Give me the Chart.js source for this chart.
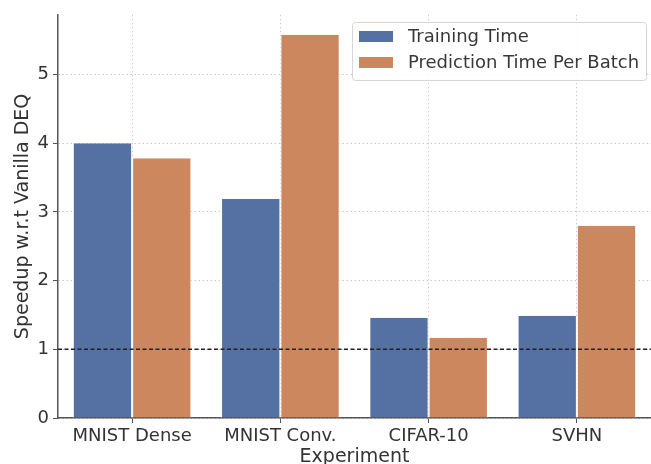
<!DOCTYPE html>
<html>
<head>
<meta charset="utf-8">
<script src="https://cdn.jsdelivr.net/npm/chart.js@4"></script>
<style>
  html, body { margin: 0; padding: 0; background: #fff; }
  #wrap { width: 651px; height: 464px; }
</style>
</head>
<body>
<div id="wrap"><canvas id="speedChart" width="651" height="464"></canvas></div>
<script>
const experiments = ['MNIST Dense', 'MNIST Conv.', 'CIFAR-10', 'SVHN'];
const trainingTime = [4.0, 3.19, 1.46, 1.49];
const predictionTime = [3.78, 5.58, 1.17, 2.80];
const yTicks = [0, 1, 2, 3, 4, 5];
const baseline = 1;

const FONT = "'DejaVu Sans', sans-serif";

// dashed baseline at 1 and the boxed legend in the upper right
const extras = {
    id: 'extras',
    afterDatasetsDraw(chart) {
        const ctx = chart.ctx;
        const area = chart.chartArea;
        const y = chart.scales.y.getPixelForValue(baseline);
        ctx.save();
        ctx.strokeStyle = '#222';
        ctx.lineWidth = 1.5;
        ctx.setLineDash([4, 2.5]);
        ctx.beginPath();
        ctx.moveTo(area.left, y);
        ctx.lineTo(area.right, y);
        ctx.stroke();
        ctx.restore();
    },
    afterDraw(chart) {
        const ctx = chart.ctx;
        const bx = 352, by = 22, bw = 294, bh = 58;
        ctx.save();
        ctx.fillStyle = 'rgba(255,255,255,0.85)';
        ctx.strokeStyle = '#d6d6d6';
        ctx.lineWidth = 1;
        ctx.beginPath();
        ctx.roundRect(bx + 0.5, by + 0.5, bw, bh, 3);
        ctx.fill();
        ctx.stroke();
        ctx.font = '18px ' + FONT;
        ctx.textBaseline = 'middle';
        chart.data.datasets.forEach((ds, i) => {
            const rowY = by + 15 + i * 26;
            ctx.fillStyle = ds.backgroundColor;
            ctx.fillRect(bx + 7, rowY - 6, 34, 11);
            ctx.fillStyle = '#383838';
            ctx.fillText(ds.label, bx + 56, rowY);
        });
        ctx.restore();
    }
};

const ctx = document.getElementById('speedChart').getContext('2d');
new Chart(ctx, {
    type: 'bar',
    data: {
        labels: experiments,
        datasets: [{
            label: 'Training Time',
            data: trainingTime,
            backgroundColor: '#5571A4',
            borderColor: '#ffffff',
            borderWidth: { left: 1, right: 1, top: 0 },
            borderSkipped: 'bottom',
            barPercentage: 1,
            categoryPercentage: 0.8
        }, {
            label: 'Prediction Time Per Batch',
            data: predictionTime,
            backgroundColor: '#CD875F',
            borderColor: '#ffffff',
            borderWidth: { left: 1, right: 1, top: 0 },
            borderSkipped: 'bottom',
            barPercentage: 1,
            categoryPercentage: 0.8
        }]
    },
    options: {
        responsive: false,
        animation: false,
        layout: { padding: { top: 10, right: 0, left: 0, bottom: 0 } },
        plugins: {
            legend: { display: false },
            tooltip: { enabled: false }
        },
        scales: {
            x: {
                afterFit: s => { s.height = 46; },
                grid: {
                    offset: false,
                    color: '#cccccc',
                    lineWidth: 1,
                    tickColor: '#555',
                    tickLength: 5
                },
                border: { display: true, color: '#555', width: 1.5, dash: [1.5, 2.5] },
                ticks: { color: '#333', font: { family: FONT, size: 18, lineHeight: 1 }, padding: 4, maxRotation: 0 },
                title: {
                    display: true,
                    text: 'Experiment',
                    color: '#333',
                    font: { family: FONT, size: 19, lineHeight: 1 },
                    padding: { top: 0, bottom: -3 }
                }
            },
            y: {
                min: 0,
                max: 5.87,
                afterFit: s => { s.width = 58; },
                afterBuildTicks: s => { s.ticks = yTicks.map(v => ({ value: v })); },
                grid: {
                    color: '#cccccc',
                    lineWidth: 1,
                    tickColor: '#555',
                    tickLength: 5
                },
                border: { display: true, color: '#555', width: 1.5, dash: [1.5, 2.5] },
                ticks: { color: '#333', font: { family: FONT, size: 18 }, padding: 4 },
                title: {
                    display: true,
                    text: 'Speedup w.r.t Vanilla DEQ',
                    color: '#333',
                    font: { family: FONT, size: 19, lineHeight: 1 },
                    padding: { top: 14, bottom: 0 }
                }
            }
        }
    },
    plugins: [extras]
});
</script>
</body>
</html>
